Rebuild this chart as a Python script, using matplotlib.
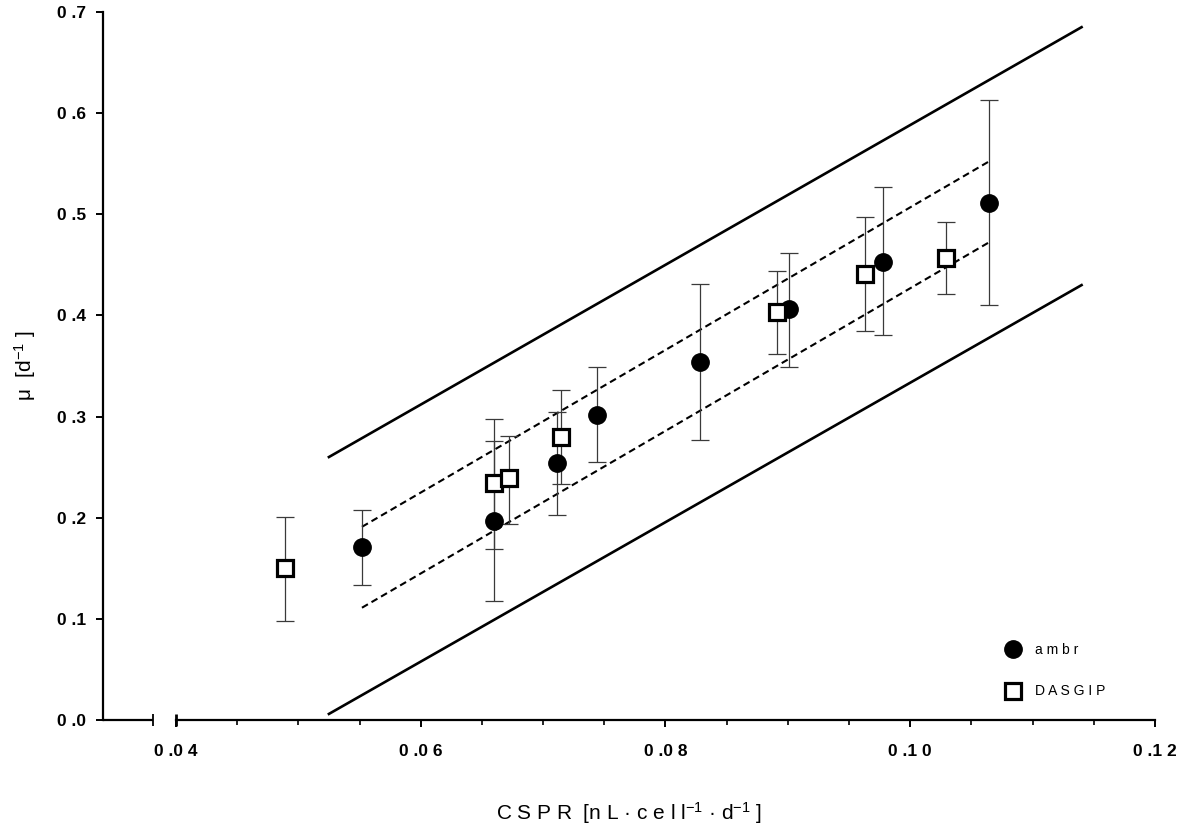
import matplotlib
matplotlib.use("Agg")
import matplotlib.pyplot as plt
import numpy as np

# ---------------- data ----------------
ambr_x = [0.0552, 0.0660, 0.0711, 0.0744, 0.0828, 0.0901, 0.0978, 0.1064]
ambr_y = [0.171, 0.197, 0.254, 0.302, 0.354, 0.406, 0.453, 0.511]
ambr_lo = [0.133, 0.118, 0.203, 0.255, 0.277, 0.349, 0.381, 0.410]
ambr_hi = [0.208, 0.276, 0.305, 0.349, 0.431, 0.462, 0.527, 0.613]

dasgip_x = [0.0489, 0.0660, 0.0672, 0.0715, 0.0891, 0.0963, 0.1029]
dasgip_y = [0.150, 0.234, 0.239, 0.280, 0.403, 0.441, 0.457]
dasgip_lo = [0.098, 0.169, 0.194, 0.233, 0.362, 0.385, 0.421]
dasgip_hi = [0.201, 0.298, 0.281, 0.326, 0.444, 0.497, 0.492]

# prediction (solid) and confidence (dashed) bands: [x0, x1], [y0, y1]
pred_upper_x = [0.0525, 0.1140]
pred_upper_y = [0.260, 0.685]
pred_lower_x = [0.0525, 0.1140]
pred_lower_y = [0.006, 0.430]
conf_upper_x = [0.0552, 0.1064]
conf_upper_y = [0.191, 0.552]
conf_lower_x = [0.0552, 0.1064]
conf_lower_y = [0.111, 0.472]

series_names = ["ambr", "DASGIP"]
x_major = [0.04, 0.06, 0.08, 0.10, 0.12]
y_major = [0.0, 0.1, 0.2, 0.3, 0.4, 0.5, 0.6, 0.7]

# ---------------- style ----------------
plt.rcParams["font.family"] = ["Liberation Sans", "DejaVu Sans"]
plt.rcParams["mathtext.fontset"] = "custom"
plt.rcParams["mathtext.rm"] = "Liberation Sans"
plt.rcParams["mathtext.it"] = "Liberation Sans"
plt.rcParams["mathtext.default"] = "regular"


def spaced(s):
    return " ".join(list(s))


def num_label(v, nd):
    s = f"{v:.{nd}f}"
    ip, fp = s.split(".")
    return ip + " ." + " ".join(fp)


fig = plt.figure(figsize=(11.87, 8.26), dpi=100)
ax = fig.add_axes([103 / 1187, 1 - 720 / 826, (1155 - 103) / 1187, (720 - 12) / 826])

XMIN = 0.03404
BREAK_L = 0.03816
ax.set_xlim(XMIN, 0.12)
ax.set_ylim(0, 0.7)

for s in ["top", "right"]:
    ax.spines[s].set_visible(False)
ax.spines["left"].set_linewidth(1.6)
ax.spines["bottom"].set_linewidth(1.6)
ax.spines["bottom"].set_bounds(0.04, 0.12)

xt = ax.get_xaxis_transform()
# left piece of broken x axis
ax.plot([XMIN, BREAK_L], [0, 0], color="black", lw=1.6, transform=xt, clip_on=False,
        solid_capstyle="butt")
ax.plot([BREAK_L], [0], marker="|", markersize=8.5, mew=1.3, color="black",
        transform=xt, clip_on=False)
ax.plot([0.04], [0], marker="|", markersize=8.5, mew=2.0, color="black",
        transform=xt, clip_on=False)

ax.set_xticks(x_major)
ax.set_xticklabels([num_label(v, 2) for v in x_major], fontsize=12.5, fontweight="bold")
ax.set_xticks(np.arange(0.045, 0.1199, 0.005), minor=True)
ax.set_yticks(y_major)
ax.set_yticklabels([num_label(v, 1) for v in y_major], fontsize=12.5, fontweight="bold")
ax.tick_params(axis="both", which="major", length=5, width=1.4, direction="out", pad=7)
ax.tick_params(axis="x", which="minor", length=3.5, width=1.2, direction="out")
ax.tick_params(axis="x", which="major", pad=12)

# lines
ax.plot(pred_upper_x, pred_upper_y, color="black", lw=1.9, zorder=2)
ax.plot(pred_lower_x, pred_lower_y, color="black", lw=1.9, zorder=2)
ax.plot(conf_upper_x, conf_upper_y, color="black", lw=1.5, ls=(0, (3.3, 2.0)), zorder=2)
ax.plot(conf_lower_x, conf_lower_y, color="black", lw=1.5, ls=(0, (3.3, 2.0)), zorder=2)

# error bars
ay = np.array(ambr_y)
aerr = [ay - np.array(ambr_lo), np.array(ambr_hi) - ay]
dy = np.array(dasgip_y)
derr = [dy - np.array(dasgip_lo), np.array(dasgip_hi) - dy]
ax.errorbar(ambr_x, ambr_y, yerr=aerr, fmt="none", ecolor="#3a3a3a", elinewidth=0.9,
            capsize=6.5, capthick=0.9, zorder=3)
ax.errorbar(dasgip_x, dasgip_y, yerr=derr, fmt="none", ecolor="#3a3a3a", elinewidth=0.9,
            capsize=6.5, capthick=0.9, zorder=3)

h1, = ax.plot(ambr_x, ambr_y, ls="none", marker="o", markersize=12.5, color="black",
              zorder=4)
h2, = ax.plot(dasgip_x, dasgip_y, ls="none", marker="s", markersize=11.5,
              markerfacecolor="white", markeredgecolor="black", markeredgewidth=2.3,
              zorder=5)

leg = ax.legend([h1, h2], [spaced(n) for n in series_names], loc="upper left",
                bbox_to_anchor=(0.853, 0.117), frameon=False, fontsize=10,
                handlelength=1.0, handletextpad=1.1, labelspacing=2.0,
                borderaxespad=0)

ax.set_ylabel("μ  [d$^{-1}$ ]", fontsize=15, labelpad=14)
ax.set_xlabel("C S P R  [n L · c e l l$^{-1}$ · d$^{-1}$ ]", fontsize=15, labelpad=30)

fig.savefig("out.png", dpi=100)
